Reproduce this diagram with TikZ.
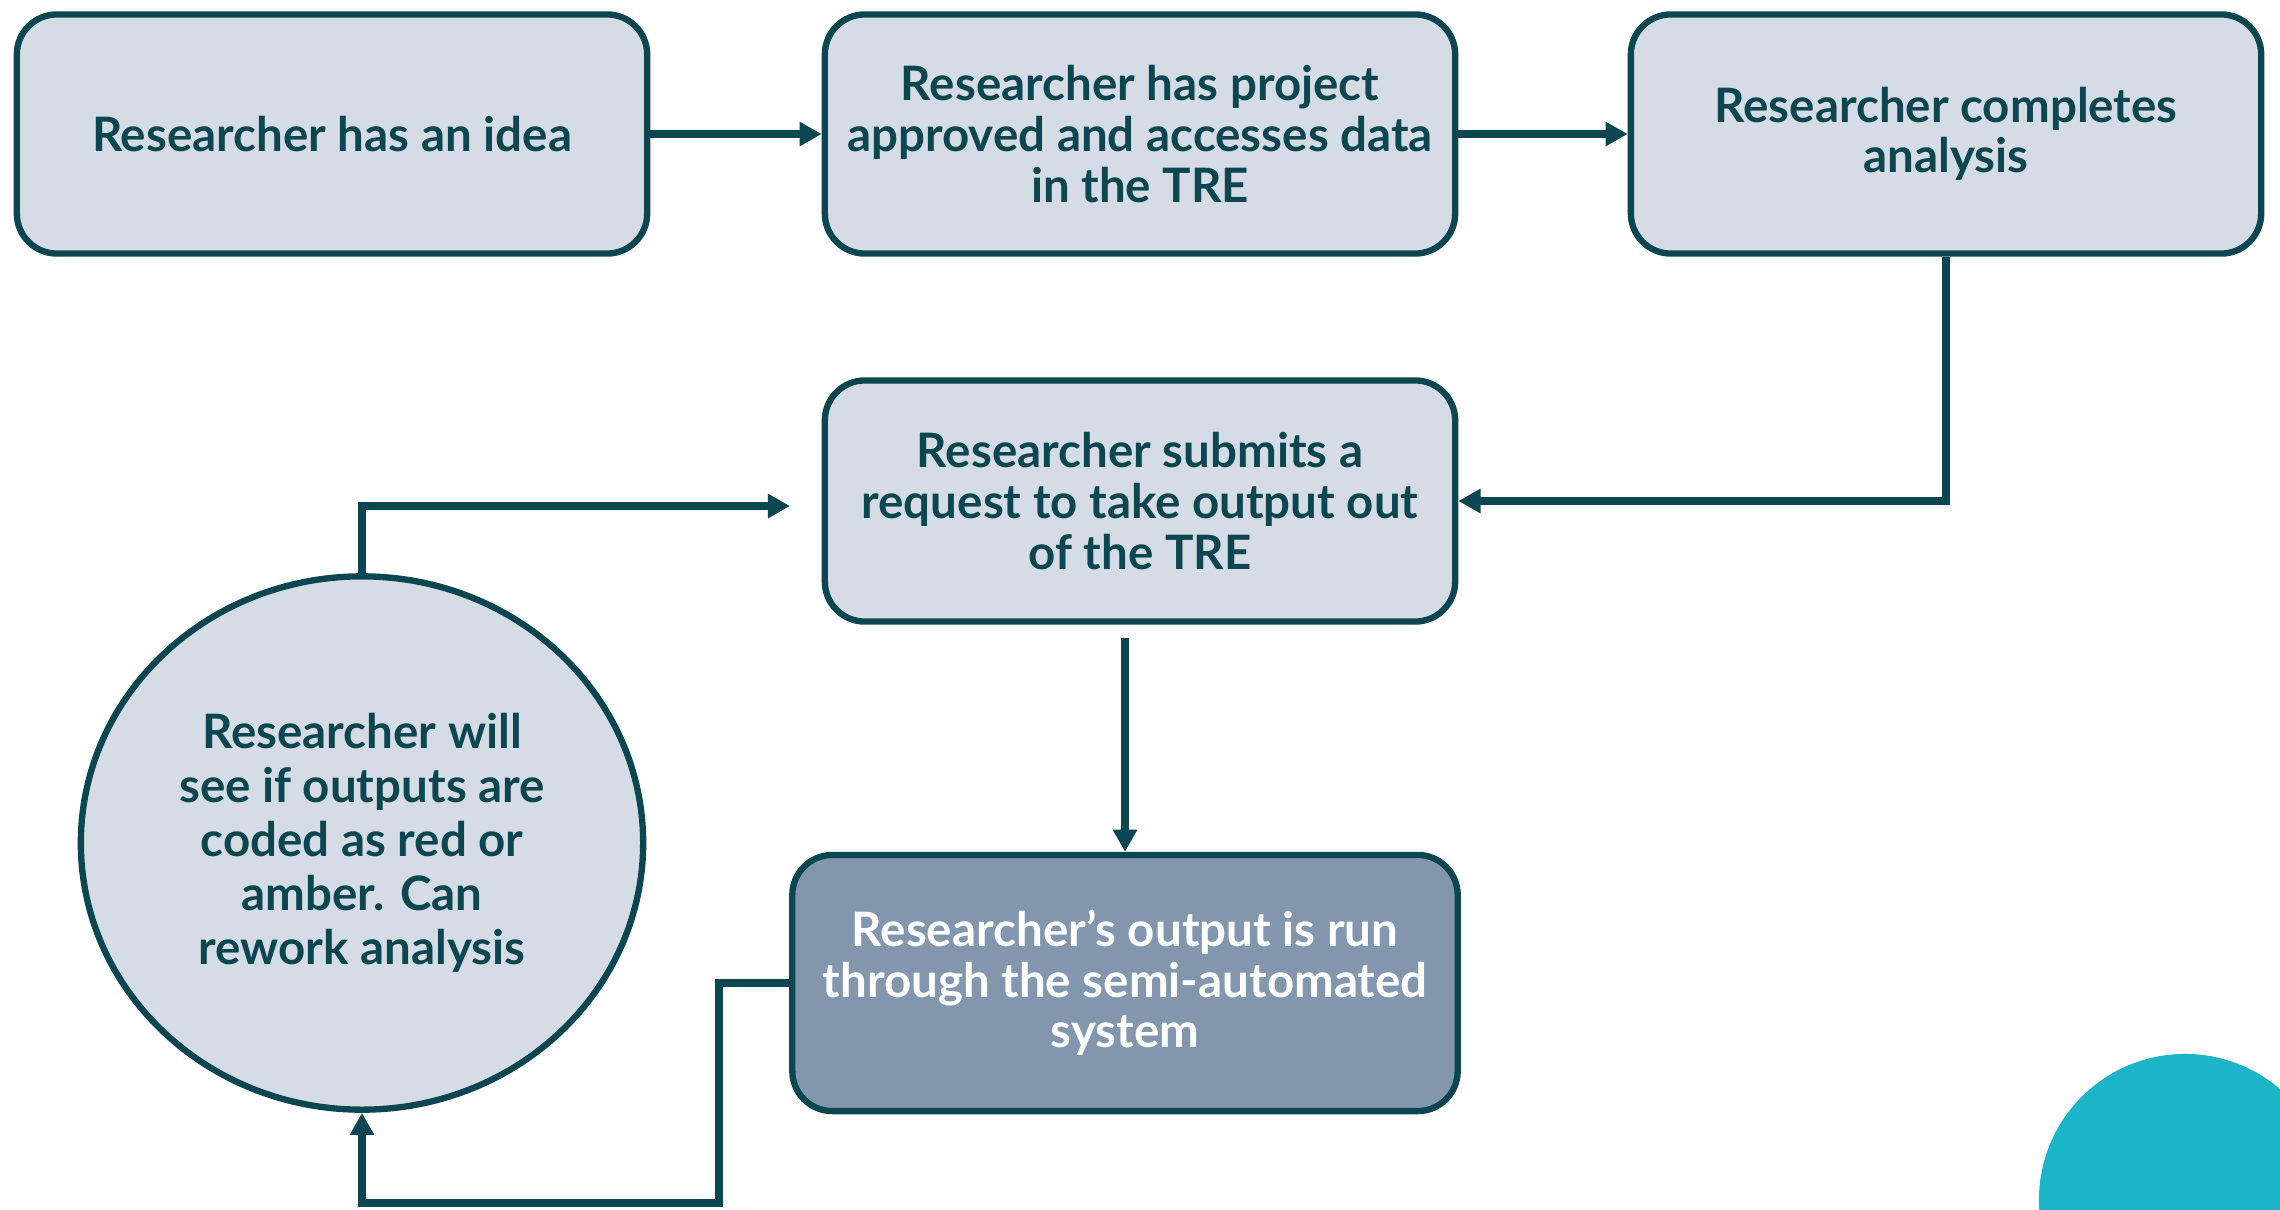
\documentclass[tikz,border=0pt]{standalone}
\usepackage{fontspec}
\setmainfont{Lato}
\usetikzlibrary{arrows.meta,shapes.geometric,calc}
\definecolor{dk}{HTML}{0C4650}
\definecolor{lt}{HTML}{D5DCE5}
\definecolor{md}{HTML}{8296AE}
\definecolor{tl}{HTML}{1CB5C7}
\tikzset{
  stepbox/.style={draw=dk, line width=1.8pt, fill=lt, rounded corners=0.4cm,
    minimum width=6.3cm, minimum height=2.39cm, align=center, text=dk,
    font=\fontsize{13.5}{14.4}\selectfont\bfseries, inner sep=0pt},
  darkbox/.style={stepbox, fill=md, text=white, minimum width=6.65cm, minimum height=2.56cm},
  roundbox/.style={draw=dk, line width=1.8pt, fill=lt, ellipse, minimum width=5.62cm,
    minimum height=5.33cm, align=center, text=dk, inner sep=0pt,
    font=\fontsize{13.5}{15.4}\selectfont\bfseries},
  arr/.style={draw=dk, line width=2.1pt, -{Triangle[length=6.3pt,width=6.6pt]}}
}
\begin{document}
\begin{tikzpicture}[x=0.01cm,y=-0.01cm]
\useasboundingbox (0,0) rectangle (2280,1209);
\fill[white] (0,0) rectangle (2280,1209);
\begin{scope}
\clip (0,0) rectangle (2280,1209);
\fill[tl] (2185,1200) circle[radius=1.46cm];
\end{scope}
\node[stepbox] (b1) at (332,134) {Researcher has an idea};
\node[stepbox] (b2) at (1140,134) {Researcher has project\\approved and accesses data\\in the TRE};
\node[stepbox] (b3) at (1946,134) {Researcher completes\\analysis};
\node[stepbox, minimum height=2.41cm] (b4) at (1140,501) {Researcher submits a\\request to take output out\\of the TRE};
\node[darkbox] (b5) at (1125,983) {Researcher’s output is run\\through the semi-automated\\system};
\node[roundbox] (c) at (362,843) {Researcher will\\see if outputs are\\coded as red or\\amber. Can\\rework analysis};
\coordinate (e1) at (790,506);
\draw[arr] (b1.east) -- (b2.west);
\draw[arr] (b2.east) -- (b3.west);
\draw[arr] (b3.south) |- (b4.east);
\draw[arr] (c.north) |- (e1);
\draw[arr, shorten <=0.13cm] (b5.north |- b4.south) -- (b5.north);
\draw[arr] (b5.west) -- ++(-70,0) -- ++(0,220) -| (c.south);
\end{tikzpicture}
\end{document}
